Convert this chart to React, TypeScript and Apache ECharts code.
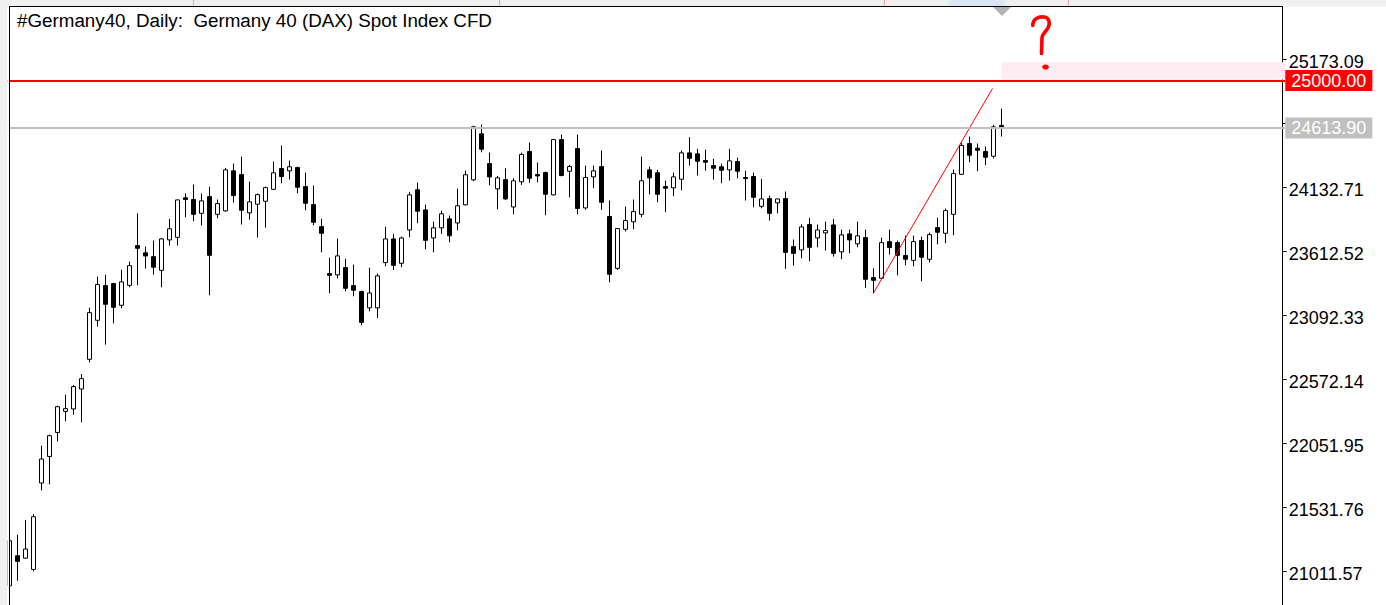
import React, { useEffect, useRef } from 'react';
import * as echarts from 'echarts';

// ---- text ----
const titleText = '#Germany40, Daily:  Germany 40 (DAX) Spot Index CFD';

// ---- daily candles (open / close / low / high) ----
const opens = [
  20895, 21139, 21120, 21028, 21730, 21946, 22141, 22312, 22332, 22494,
  22735, 23052, 23334, 23350, 23174, 23336, 23659, 23600, 23569, 23458,
  23705, 23726, 24047, 24033, 23921, 24057, 23913, 23941, 24266, 24236,
  23925, 23995, 24019, 24116, 24285, 24266, 24293, 24138, 23992, 23813,
  23431, 23421, 23480, 23334, 23285, 23153, 23153, 23521, 23713, 23515,
  23786, 24112, 23949, 23721, 23803, 23876, 23843, 23990, 24193, 24567,
  24325, 24120, 24195, 23973, 24177, 24423, 24236, 24252, 24071, 24520,
  24263, 24447, 23965, 24217, 24301, 23895, 23474, 23791, 23852, 23913,
  24274, 24250, 24138, 24128, 24198, 24412, 24404, 24350, 24309, 24299,
  24274, 24342, 24212, 24220, 23978, 24041, 24006, 24041, 23651, 23624,
  23830, 23721, 23762, 23827, 23608, 23754, 23673, 23724, 23399, 23393,
  23691, 23683, 23578, 23539, 23700, 23548, 23805, 23759, 23913, 24238,
  24488, 24450, 24423, 24385, 24635,
];
const closes = [
  21261, 21093, 21194, 21456, 21925, 22115, 22350, 22334, 22513, 22578,
  23114, 23342, 23182, 23157, 23364, 23496, 23637, 23574, 23483, 23713,
  23795, 24030, 24033, 23913, 24022, 23580, 24000, 24274, 24065, 23946,
  24014, 24073, 24130, 24250, 24220, 24299, 24133, 24003, 23848, 23759,
  23417, 23575, 23312, 23296, 23035, 23274, 23413, 23713, 23499, 23721,
  24071, 23938, 23702, 23803, 23917, 23738, 23982, 24234, 24624, 24442,
  24217, 24209, 24038, 24185, 24399, 24206, 24225, 24076, 24520, 24228,
  24301, 23960, 24212, 24266, 24011, 23426, 23797, 23862, 23935, 24185,
  24209, 24076, 24125, 24217, 24412, 24368, 24344, 24336, 24287, 24271,
  24347, 24263, 24203, 24051, 24038, 23921, 24038, 23604, 23596, 23811,
  23645, 23786, 23781, 23596, 23746, 23705, 23738, 23385, 23377, 23683,
  23643, 23580, 23548, 23691, 23564, 23748, 23767, 23943, 24244, 24472,
  24393, 24433, 24377, 24624, 24613.9,
];
const lows = [
  20871, 20936, 21115, 21012, 21670, 21719, 22068, 22231, 22285, 22223,
  22710, 23001, 22854, 23027, 23149, 23320, 23336, 23472, 23423, 23320,
  23659, 23659, 23889, 23856, 23821, 23255, 23881, 23935, 24008, 23830,
  23870, 23724, 23805, 24110, 24165, 24195, 24084, 23946, 23824, 23604,
  23271, 23393, 23287, 23247, 23011, 23125, 23071, 23491, 23461, 23483,
  23726, 23840, 23629, 23604, 23754, 23686, 23783, 23985, 24182, 24417,
  24149, 23954, 24030, 23913, 24152, 24169, 24173, 23905, 24066, 24222,
  24051, 23913, 23951, 24125, 23949, 23361, 23461, 23773, 23791, 23889,
  24076, 24011, 23930, 24060, 24108, 24309, 24228, 24268, 24195, 24165,
  24187, 24206, 24025, 23970, 23962, 23862, 23921, 23470, 23496, 23556,
  23531, 23645, 23618, 23569, 23548, 23596, 23645, 23315, 23271, 23390,
  23586, 23417, 23499, 23491, 23369, 23523, 23669, 23678, 23743, 24234,
  24336, 24263, 24312, 24368, 24545,
];
const highs = [
  21294, 21310, 21429, 21478, 22033, 22123, 22358, 22448, 22527, 22616,
  23155, 23407, 23423, 23356, 23464, 23529, 23921, 23651, 23700, 23721,
  23876, 24032, 24084, 24155, 24082, 24138, 24033, 24290, 24325, 24382,
  24179, 24082, 24138, 24342, 24472, 24350, 24301, 24252, 24147, 23878,
  23561, 23716, 23553, 23504, 23293, 23480, 23431, 23813, 23754, 23732,
  24095, 24171, 23992, 23854, 23943, 23903, 24122, 24268, 24632, 24642,
  24415, 24225, 24287, 24206, 24415, 24496, 24334, 24260, 24525, 24561,
  24315, 24561, 24309, 24309, 24431, 24025, 23800, 23976, 24033, 24382,
  24301, 24274, 24187, 24252, 24431, 24539, 24445, 24439, 24364, 24325,
  24445, 24374, 24268, 24252, 24201, 24065, 24040, 24098, 23708, 23832,
  23884, 23830, 23854, 23876, 23789, 23789, 23854, 23789, 23474, 23724,
  23789, 23700, 23740, 23740, 23732, 23765, 23886, 23960, 24277, 24496,
  24545, 24488, 24464, 24640, 24772,
];

// ---- axis ----
const slotCount = 160; // visible bar slots incl. chart shift space
const categories = Array.from({ length: slotCount }, (_, i) => `D${i}`);
const priceTicks = [25173.09, 24652.9, 24132.71, 23612.52, 23092.33, 22572.14, 22051.95, 21531.76, 21011.57];
const priceLabels = [25173.09, 24132.71, 23612.52, 23092.33, 22572.14, 22051.95, 21531.76, 21011.57];
const yMin = 20739.2;
const yMax = 25597.1;

// ---- annotations ----
const alertLevel = 25000;
const lastPrice = closes[closes.length - 1];
const trendX = [108, 122.9];
const trendY = [23271, 24935];
const zoneX = [124, 159.5];
const zoneY = [25008, 25148];

const FONT = "'Liberation Sans', Arial, sans-serif";

echarts.graphic.registerShape(
  'qmark',
  echarts.graphic.extendPath('M2.3,11 C2.3,4 8,2 13.5,2.5 C19,3 20,9 17.5,13.5 C15.5,17 12,19 11.5,23 L11,39', {})
);

export default function App() {
  const ref = useRef<HTMLDivElement>(null);

  useEffect(() => {
    if (!ref.current) return;
    const chart = echarts.init(ref.current, undefined, { renderer: 'svg' });
    const candleData = opens.map((o, i) => [o, closes[i], lows[i], highs[i]]);

    const boxLabel = (bg: string) => ({
      show: true,
      position: 'end',
      distance: 0,
      formatter: (p: any) => Number(p.value).toFixed(2),
      color: '#ffffff',
      backgroundColor: bg,
      padding: [1, 6, 0, 6],
      fontSize: 18,
      lineHeight: 20,
      fontFamily: FONT,
    });

    chart.setOption({
      animation: false,
      backgroundColor: '#ffffff',
      grid: { left: 5.3, right: 100.7, top: 7, bottom: 0, containLabel: false },
      xAxis: [
        { type: 'category', data: categories, boundaryGap: true, show: false },
        { type: 'value', min: -0.5, max: slotCount - 0.5, show: false },
      ],
      yAxis: {
        type: 'value',
        position: 'right',
        min: yMin,
        max: yMax,
        offset: -2.6,
        scale: true,
        axisLine: { show: true, onZero: false, lineStyle: { color: '#000000', width: 1 } },
        axisTick: { show: true, inside: false, length: 4, lineStyle: { color: '#000000' }, customValues: priceTicks },
        axisLabel: {
          show: true,
          margin: 6,
          color: '#000000',
          fontSize: 18,
          fontFamily: FONT,
          customValues: priceLabels,
          formatter: (v: number) => `{p|${v.toFixed(2)}}`,
          rich: {
            p: { padding: [5, 0, 0, 0], fontSize: 18, fontFamily: FONT, color: '#000000' },
          },
        },
        splitLine: { show: false },
      },
      title: {
        text: titleText,
        left: 12,
        top: 6,
        textStyle: { fontSize: 18.8, fontWeight: 'normal', color: '#000000', fontFamily: FONT },
      },
      series: [
        {
          type: 'candlestick',
          xAxisIndex: 0,
          data: candleData,
          barWidth: 5,
          itemStyle: {
            color: '#ffffff',
            color0: '#000000',
            borderColor: '#000000',
            borderColor0: '#000000',
            borderColorDoji: '#000000',
            borderWidth: 1,
          },
          markLine: {
            silent: true,
            symbol: ['none', 'none'],
            data: [
              { yAxis: lastPrice, lineStyle: { color: '#c0c0c0', width: 2, type: 'solid' }, label: boxLabel('#c0c0c0') },
              { yAxis: alertLevel, lineStyle: { color: '#ff0000', width: 2, type: 'solid' }, label: boxLabel('#ff0000') },
            ],
          },
        },
        {
          type: 'line',
          xAxisIndex: 1,
          data: [
            [trendX[0], trendY[0]],
            [trendX[1], trendY[1]],
          ],
          symbol: 'none',
          lineStyle: { color: '#ff0000', width: 1 },
          silent: true,
          markArea: {
            silent: true,
            itemStyle: { color: '#fdedf2' },
            data: [[{ xAxis: zoneX[0], yAxis: zoneY[0] }, { xAxis: zoneX[1], yAxis: zoneY[1] }]],
          },
        },
      ],
      graphic: [
        { type: 'rect', z: 50, silent: true, shape: { x: 0, y: 0, width: 1386, height: 6.5 }, style: { fill: '#f0f0f0' } },
        { type: 'rect', z: 51, silent: true, shape: { x: 949, y: 0, width: 56, height: 6.5 }, style: { fill: '#dbe6f4' } },
        { type: 'line', z: 51, silent: true, shape: { x1: 193.5, y1: 0, x2: 193.5, y2: 6 }, style: { stroke: '#e3a8a8', lineWidth: 1 } },
        { type: 'line', z: 51, silent: true, shape: { x1: 499.5, y1: 0, x2: 499.5, y2: 6 }, style: { stroke: '#e3a8a8', lineWidth: 1 } },
        { type: 'line', z: 51, silent: true, shape: { x1: 884.5, y1: 0, x2: 884.5, y2: 6 }, style: { stroke: '#e3a8a8', lineWidth: 1 } },
        { type: 'line', z: 51, silent: true, shape: { x1: 1068.5, y1: 0, x2: 1068.5, y2: 6 }, style: { stroke: '#e3a8a8', lineWidth: 1 } },
        { type: 'rect', z: 50, silent: true, shape: { x: 0, y: 0, width: 7.5, height: 605 }, style: { fill: '#f0f0f0' } },
        { type: 'rect', z: 50, silent: true, shape: { x: 7.5, y: 6.5, width: 1.5, height: 600 }, style: { fill: '#ffffff' } },
        { type: 'line', z: 52, silent: true, shape: { x1: 9.5, y1: 6.5, x2: 9.5, y2: 605 }, style: { stroke: '#000000', lineWidth: 1 } },
        { type: 'line', z: 52, silent: true, shape: { x1: 9, y1: 6.5, x2: 1283, y2: 6.5 }, style: { stroke: '#000000', lineWidth: 1 } },
        { type: 'polygon', z: 52, silent: true, shape: { points: [[993, 7], [1011, 7], [1002, 16]] }, style: { fill: '#b4b4b4' } },
        { type: 'qmark', z: 53, silent: true, x: 1030.5, y: 14.5, style: { stroke: '#ff0000', fill: 'none', lineWidth: 3.6, lineCap: 'round', lineJoin: 'round' } },
        { type: 'ellipse', z: 53, silent: true, shape: { cx: 1045.5, cy: 67, rx: 3.3, ry: 2.6 }, style: { fill: '#ff0000' } },
      ],
    });

    return () => chart.dispose();
  }, []);

  return (
    <div
      ref={ref}
      style={{ position: 'fixed', left: 0, top: 0, width: 1386, height: 605, background: '#ffffff' }}
    />
  );
}
